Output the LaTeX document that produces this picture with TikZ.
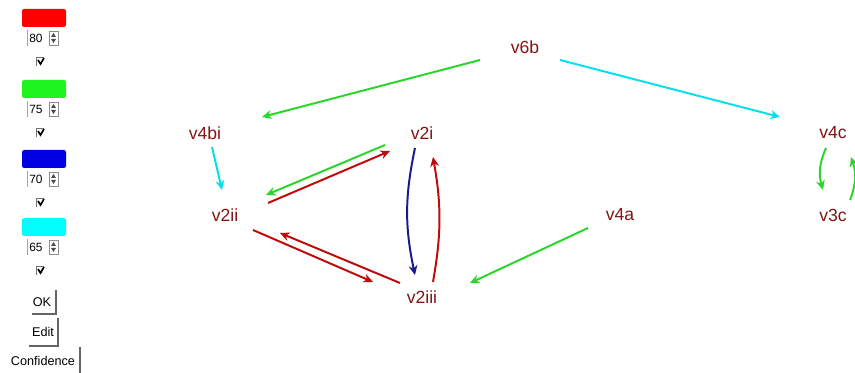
\documentclass[tikz,border=0pt]{standalone}
\usepackage{fontspec}
\setmainfont{Liberation Sans}
\usetikzlibrary{arrows.meta,calc}

\definecolor{labred}{RGB}{130,20,20}
\definecolor{arrred}{RGB}{190,10,10}
\definecolor{arrgreen}{RGB}{40,215,40}
\definecolor{arrcyan}{RGB}{0,225,235}
\definecolor{arrblue}{RGB}{25,25,140}
\definecolor{swred}{RGB}{255,0,0}
\definecolor{swgreen}{RGB}{30,245,30}
\definecolor{swblue}{RGB}{0,0,225}
\definecolor{swcyan}{RGB}{0,255,255}

\begin{document}
\begin{tikzpicture}[
    x=0.025cm, y=-0.025cm,
    vert/.style={text=labred, inner sep=2pt, font=\fontsize{12.5}{14}\selectfont},
    arr/.style={-{Stealth[length=2.4mm, width=2.2mm]}, line width=1.4pt},
    ui/.style={inner sep=0pt, font=\fontsize{8.5}{9}\selectfont},
    btn/.style={inner sep=0pt, font=\fontsize{9}{10}\selectfont},
    edge/.style={draw=black!60, line width=0.8pt}]
  \useasboundingbox (0,0) rectangle (855,373);

  % control panel
  \foreach \col/\val/\t in {swred/80/9, swgreen/75/80, swblue/70/150, swcyan/65/218} {
    \fill[\col, rounded corners=1.5pt] (22,\t) rectangle (66,\t+18);
    \draw[black!35, line width=0.5pt] (27,\t+21) -- (27,\t+37);
    \node[ui] (spin\val) at (36,\t+29) {\val};
    \draw[black!45, line width=0.4pt] (49,\t+22) rectangle (58,\t+36);
    \fill[black!70] (51,\t+28) -- (56,\t+28) -- (53.5,\t+24) -- cycle;
    \fill[black!70] (51,\t+30) -- (56,\t+30) -- (53.5,\t+34) -- cycle;
    \draw[black!55, line width=0.5pt] (44,\t+48) -- (36,\t+48) -- (36,\t+57);
    \draw[black, line width=1.2pt] (38,\t+51) -- (40.5,\t+55) -- (44,\t+49);
  }
  \node[btn] (ok) at (42,302) {OK};
  \draw[edge] (32,314) -- (56,314) -- (56,290);
  \node[btn] (edit) at (43,332) {Edit};
  \draw[edge] (29,346) -- (58,346) -- (58,318);
  \node[btn] (conf) at (43,361) {Confidence};
  \draw[edge] (80,373) -- (80,347);

  % graph
  \node[vert] (v6b) at (525,47) {v6b};
  \node[vert] (v4bi) at (205,133) {v4bi};
  \node[vert] (v2i) at (422,133) {v2i};
  \node[vert] (v4c) at (833,133) {v4c};
  \node[vert] (v2ii) at (225,215) {v2ii};
  \node[vert] (v4a) at (620,215) {v4a};
  \node[vert] (v3c) at (833,215) {v3c};
  \node[vert] (v2iii) at (422,297) {v2iii};

  \draw[arr, arrgreen] ([shift={(-45,13)}]v6b.center) -- ([shift={(57,-16)}]v4bi.center);
  \draw[arr, arrcyan] ([shift={(35,13)}]v6b.center) -- ([shift={(-53,-16)}]v4c.center);
  \draw[arr, arrcyan] ([shift={(7,14)}]v4bi.center) -- ([shift={(-3,-25)}]v2ii.center);
  \draw[arr, arrgreen] ([shift={(-37,12)}]v2i.center) -- ([shift={(41,-20)}]v2ii.center);
  \draw[arr, arrred] ([shift={(43,-12)}]v2ii.center) -- ([shift={(-32,18)}]v2i.center);
  \draw[arr, arrred] ([shift={(28,15)}]v2ii.center) -- ([shift={(-49,-15)}]v2iii.center);
  \draw[arr, arrred] ([shift={(-22,-14)}]v2iii.center) -- ([shift={(55,18)}]v2ii.center);
  \draw[arr, arrblue] ([shift={(-7,15)}]v2i.center) to[bend right=12] ([shift={(-7,-22)}]v2iii.center);
  \draw[arr, arrred] ([shift={(11,-15)}]v2iii.center) to[bend right=10] ([shift={(11,24)}]v2i.center);
  \draw[arr, arrgreen] ([shift={(-32,13)}]v4a.center) -- ([shift={(48,-14)}]v2iii.center);
  \draw[arr, arrgreen] ([shift={(-7,15)}]v4c.center) to[bend right=20] ([shift={(-10,-25)}]v3c.center);
  \draw[arr, arrgreen] ([shift={(17,-15)}]v3c.center) to[bend right=20] ([shift={(18,24)}]v4c.center);
\end{tikzpicture}
\end{document}
